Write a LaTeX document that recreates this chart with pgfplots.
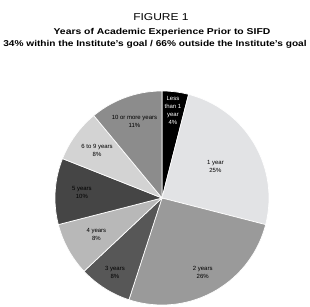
\documentclass[border=0pt]{standalone}
\usepackage{graphicx}
\usepackage{pgfplots}
\pgfplotsset{compat=1.18}
\usepackage{fontspec}
\setmainfont{Liberation Sans}
\definecolor{s1}{HTML}{000000}
\definecolor{s2}{HTML}{E2E3E5}
\definecolor{s3}{HTML}{9A9A9A}
\definecolor{s4}{HTML}{575757}
\definecolor{s5}{HTML}{B8B8B8}
\definecolor{s6}{HTML}{454545}
\definecolor{s7}{HTML}{D3D3D3}
\definecolor{s8}{HTML}{8C8C8C}
\newcommand\lblfont{\fontsize{6}{8}\selectfont}
\begin{document}
\begin{tikzpicture}[x=1pt,y=1pt]
\useasboundingbox (0,0) rectangle (310,307);
\node[font=\fontsize{10}{12}\selectfont] at (161,290) {\scalebox{1.2}[1]{FIGURE 1}};
\node[font=\bfseries\fontsize{8.5}{10}\selectfont] at (162,275) {\scalebox{1.22}[1]{Years of Academic Experience Prior to SIFD}};
\node[font=\bfseries\fontsize{8.5}{10}\selectfont, inner sep=0pt] at (155,263) {\scalebox{1.19}[1]{34\% within the Institute's goal / 66\% outside the Institute's goal}};
\begin{axis}[at={(55pt,2pt)}, anchor=south west, width=214pt, height=214pt,
  scale only axis, xmin=-1, xmax=1, ymin=-1, ymax=1, hide axis, clip=false]
\xdef\cur{90}
\foreach \p/\c/\r/\tc/\l in {
  4/s1/0.82/white/{Less\\than 1\\year\\4\%},
  25/s2/0.58/black/{1 year\\25\%},
  26/s3/0.79/black/{2 years\\26\%},
  8/s4/0.82/black/{3 years\\8\%},
  8/s5/0.70/black/{4 years\\8\%},
  10/s6/0.75/black/{5 years\\10\%},
  8/s7/0.75/black/{6 to 9 years\\8\%},
  11/s8/0.76/black/{10 or more years\\11\%}}{
  \pgfmathsetmacro{\e}{\cur-3.6*\p}
  \pgfmathsetmacro{\m}{\cur-1.8*\p}
  \edef\temp{\noexpand\addplot[fill=\c, draw=white, line width=0.7pt, domain=\e:\cur, samples=60, variable=\noexpand\t] ({cos(\noexpand\t)},{sin(\noexpand\t)}) -- (axis cs:0,0) -- cycle;
    \noexpand\node[align=center, font=\noexpand\lblfont, text=\tc, inner sep=0pt] at (axis cs:{\r*cos(\m)},{\r*sin(\m)}) {\unexpanded\expandafter{\l}};}
  \temp
  \xdef\cur{\e}
}
\end{axis}
\end{tikzpicture}
\end{document}
